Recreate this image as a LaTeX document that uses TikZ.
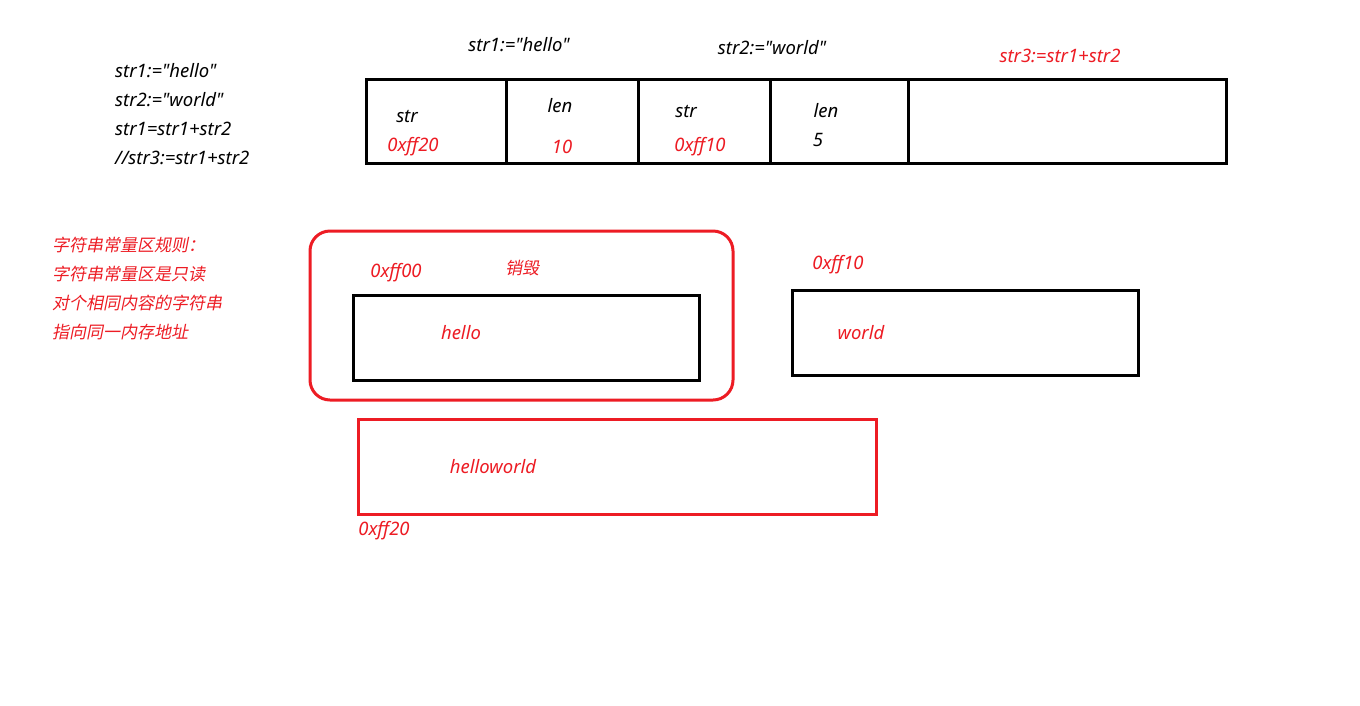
\documentclass[tikz,border=0pt]{standalone}
\usepackage{fontspec}
\setmainfont{Noto Sans}[Ligatures=TeXOff]
\newfontfamily\cjk{Noto Sans CJK SC}[FakeSlant=0.2]
\definecolor{pred}{RGB}{237,28,36}
\begin{document}
\begin{tikzpicture}[x=1pt,y=-1pt,
  txt/.style={font=\fontsize{18.5}{22}\selectfont\itshape,inner sep=0pt},
  rtxt/.style={txt,text=pred},
  ctxt/.style={font=\fontsize{17}{20}\selectfont\cjk,text=pred,inner sep=0pt,anchor=west},
  blk/.style={draw=black,line width=3pt},
  rbox/.style={draw=pred,line width=3pt}]
\useasboundingbox (0,0) rectangle (1360,705);
\fill[white] (0,0) rectangle (1360,705);
% code lines
\node[txt,anchor=west] (c1) at (115,71) {str1:="hello"};
\node[txt,anchor=west] (c2) at (115,100) {str2:="world"};
\node[txt,anchor=west] (c3) at (115,129) {str1=str1+str2};
\node[txt,anchor=west] (c4) at (115,158) {//str3:=str1+str2};
% top labels
\node[txt] (h1) at (519,45) {str1:="hello"};
\node[txt] (h2) at (772,48) {str2:="world"};
\node[rtxt] (h3) at (1060,56) {str3:=str1+str2};
% table
\draw[blk] (366,79) rectangle (1226,163);
\draw[blk] (506,79) -- (506,163);
\draw[blk] (638,79) -- (638,163);
\draw[blk] (770,79) -- (770,163);
\draw[blk] (908,79) -- (908,163);
\node[txt] (s1) at (407,117) {str};
\node[rtxt] (a1) at (413,147) {0xff20};
\node[txt] (l1) at (560,106) {len};
\node[rtxt] (n1) at (562,147) {10};
\node[txt] (s2) at (686,112) {str};
\node[rtxt] (a2) at (700,147) {0xff10};
\node[txt] (l2) at (826,111) {len};
\node[txt] (n2) at (818,140) {5};
% rules
\node[ctxt] (r1) at (52,245) {字符串常量区规则：};
\node[ctxt] (r2) at (52,274) {字符串常量区是只读};
\node[ctxt] (r3) at (52,303) {对个相同内容的字符串};
\node[ctxt] (r4) at (52,332) {指向同一内存地址};
% hello region
\draw[rbox,rounded corners=20pt] (310,231) rectangle (733,400);
\draw[blk] (353,295) rectangle (699,380);
\node[rtxt] (hello) at (461,333) {hello};
\node[rtxt] (ff00) at (396,273) {0xff00};
\node[font=\fontsize{17}{20}\selectfont\cjk,text=pred,inner sep=0pt] (xh) at (522,268) {销毁};
% world
\draw[blk] (792,290) rectangle (1138,375);
\node[rtxt] (world) at (861,333) {world};
\node[rtxt] (ff10) at (838,265) {0xff10};
% helloworld
\draw[rbox] (358,419) rectangle (876,514);
\node[rtxt] (hw) at (493,467) {helloworld};
\node[rtxt] (ff20) at (384,531) {0xff20};
\end{tikzpicture}
\end{document}
